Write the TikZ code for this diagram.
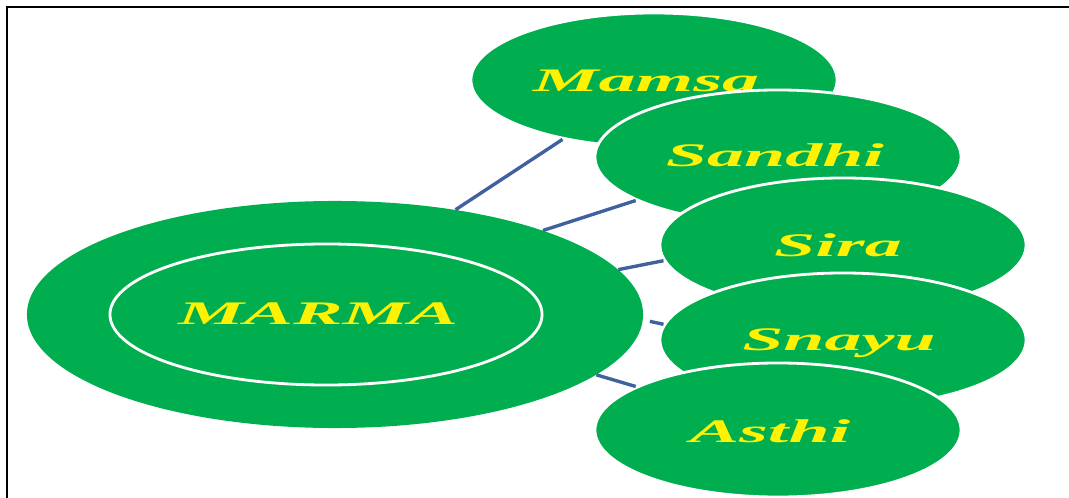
\documentclass[tikz,border=0pt]{standalone}
\usepackage{fontspec}
\setmainfont{Liberation Serif}
\newfontfamily\markfont[FakeStretch=2.25]{Liberation Serif}
\usepackage{xcolor}
\usepackage{tikz}
\usetikzlibrary{shapes.geometric}
\definecolor{leafgreen}{HTML}{00AE4F}
\definecolor{linkblue}{HTML}{41609E}

\begin{document}
\begin{tikzpicture}[x=0.025cm,y=-0.025cm,
	leaf/.style={ellipse,fill=leafgreen,draw=white,line width=2pt,minimum width=9.15cm,minimum height=3.35cm,inner sep=0pt},
	word/.style={anchor=base,text=yellow,inner sep=0pt,font=\markfont\fontsize{23.4}{28}\selectfont\bfseries\itshape},
	link/.style={linkblue,line width=2.4pt}]
	\useasboundingbox (0,0) rectangle (1069,498);
	\draw[line width=1.4pt] (7,498) -- (7,7) -- (1069,7);
	% centre
	\node[ellipse,fill=leafgreen,minimum width=15.4cm,minimum height=5.675cm,inner sep=0pt] (marma) at (335,314.5) {};
	\node[ellipse,draw=white,line width=2pt,minimum width=10.8cm,minimum height=3.525cm,inner sep=0pt] (ring) at (326,314.5) {};
	\node[word] (marmatext) at (318,324) {MARMA};
	% the five parts
	\node[leaf] (mamsa) at (654,80) {};
	\node[word] (mamsatext) at (646,92) {Mamsa};
	\node[leaf] (sandhi) at (778,157) {};
	\node[word] (sandhitext) at (775,167) {Sandhi};
	\node[leaf] (sira) at (843,245) {};
	\node[word] (siratext) at (838,257) {Sira};
	\node[leaf] (snayu) at (843,340) {};
	\node[word] (snayutext) at (839,350) {Snayu};
	\node[leaf] (asthi) at (778,430) {};
	\node[word] (asthitext) at (770,442) {Asthi};
	% links
	\draw[link] (marma.41.2) -- (mamsa.213.3);
	\draw[link] (marma.22.6) -- (sandhi.197);
	\draw[link] (marma.9.4) -- (sira.185.8);
	\draw[link,shorten <=5pt] (marma.-1.6) -- (snayu.175.4);
	\draw[link] (marma.-13.5) -- (asthi.163.8);
\end{tikzpicture}
\end{document}
